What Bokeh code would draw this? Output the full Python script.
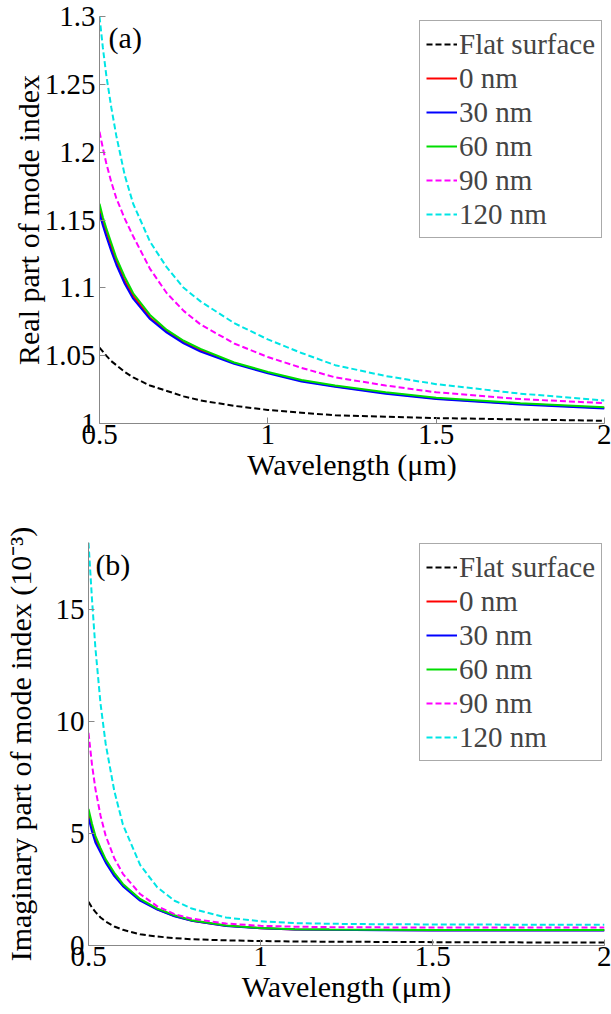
from bokeh.plotting import figure
from bokeh.models import Range1d, FixedTicker, CustomJSTickFormatter, Legend, LegendItem, Label
from bokeh.layouts import column
from bokeh.embed import file_html
from bokeh.resources import INLINE

# ---------------- data ----------------
wavelength = [0.5, 0.51, 0.52, 0.535, 0.55, 0.575, 0.6, 0.65, 0.7, 0.75, 0.8,
              0.9, 1.0, 1.1, 1.2, 1.35, 1.5, 1.75, 2.0]

series_labels = ["Flat surface", "0 nm", "30 nm", "60 nm", "90 nm", "120 nm"]

# Panel (a): real part of mode index
re_flat = [1.056, 1.053, 1.050, 1.046, 1.043, 1.038, 1.034, 1.028, 1.024, 1.020, 1.017,
           1.013, 1.010, 1.008, 1.006, 1.005, 1.004, 1.003, 1.002]
re_0 = [1.158, 1.149, 1.141, 1.130, 1.120, 1.105, 1.094, 1.078, 1.068, 1.060, 1.054,
        1.0445, 1.0375, 1.0315, 1.0275, 1.0225, 1.0185, 1.0145, 1.0115]
re_30 = [1.155, 1.146, 1.138, 1.127, 1.117, 1.103, 1.092, 1.077, 1.067, 1.059, 1.053,
         1.044, 1.037, 1.031, 1.027, 1.022, 1.018, 1.014, 1.011]
re_60 = [1.162, 1.152, 1.144, 1.133, 1.122, 1.108, 1.096, 1.080, 1.069, 1.061, 1.055,
         1.045, 1.038, 1.032, 1.028, 1.023, 1.019, 1.015, 1.012]
re_90 = [1.215, 1.203, 1.192, 1.178, 1.166, 1.151, 1.138, 1.114, 1.096, 1.083, 1.073,
         1.059, 1.049, 1.041, 1.034, 1.028, 1.023, 1.018, 1.015]
re_120 = [1.300, 1.277, 1.257, 1.233, 1.212, 1.183, 1.162, 1.134, 1.115, 1.100, 1.090,
          1.074, 1.062, 1.052, 1.043, 1.035, 1.029, 1.022, 1.017]

# Panel (b): imaginary part of mode index (x 1e-3)
im_flat = [1.95, 1.7, 1.5, 1.25, 1.07, 0.85, 0.7, 0.5, 0.4, 0.33, 0.28,
           0.23, 0.2, 0.18, 0.17, 0.16, 0.15, 0.14, 0.13]
im_0 = [5.9, 5.28, 4.75, 4.25, 3.77, 3.17, 2.7, 2.04, 1.62, 1.32, 1.11,
        0.88, 0.775, 0.72, 0.70, 0.69, 0.68, 0.68, 0.68]
im_30 = [5.7, 5.1, 4.6, 4.15, 3.7, 3.1, 2.65, 2.0, 1.6, 1.3, 1.1,
         0.87, 0.77, 0.72, 0.70, 0.68, 0.67, 0.67, 0.67]
im_60 = [6.1, 5.45, 4.9, 4.35, 3.85, 3.25, 2.75, 2.08, 1.65, 1.35, 1.13,
         0.89, 0.78, 0.73, 0.71, 0.70, 0.69, 0.69, 0.69]
im_90 = [9.5, 8.1, 7.0, 5.8, 4.9, 3.9, 3.2, 2.3, 1.75, 1.4, 1.2,
         0.98, 0.88, 0.84, 0.82, 0.81, 0.80, 0.80, 0.80]
im_120 = [18.0, 15.5, 13.3, 10.8, 9.0, 6.9, 5.4, 3.6, 2.6, 2.0, 1.65,
          1.25, 1.08, 1.0, 0.97, 0.95, 0.94, 0.93, 0.93]

x_ticks = [0.5, 1.0, 1.5, 2.0]
ya_ticks = [1.0, 1.05, 1.1, 1.15, 1.2, 1.25, 1.3]
yb_ticks = [0, 5, 10, 15]

# ---------------- styling ----------------
FONT = "Liberation Serif"
colors = ["#000000", "#ff0000", "#0000ff", "#00dd00", "#ff00ff", "#00e5e5"]
dashes = ["6 3", "solid", "solid", "solid", "6 3", "6 3"]
widths = [2, 2, 2, 2, 2, 2]

fmt = CustomJSTickFormatter(code="return String(Math.round(tick*1000)/1000)")


def make_panel(ys, y_range, y_ticks, ylabel, ylabel_standoff, tag, tag_xy, height,
               border_left, border_top, border_bottom, legend_loc):
    p = figure(width=611, height=height, output_backend="svg", toolbar_location=None,
               x_range=Range1d(0.5, 2.0), y_range=Range1d(*y_range),
               min_border_left=border_left, min_border_right=7,
               min_border_top=border_top, min_border_bottom=border_bottom)
    p.frame_align = False
    p.outline_line_color = None
    p.grid.visible = False
    p.background_fill_color = "white"
    p.border_fill_color = "white"

    for ax in (p.xaxis[0], p.yaxis[0]):
        ax.axis_line_color = "#888888"
        ax.major_tick_line_color = "#888888"
        ax.minor_tick_line_color = None
        ax.major_tick_in = 6
        ax.major_tick_out = 0
        ax.major_label_text_font = FONT
        ax.major_label_text_font_size = "29px"
        ax.major_label_text_color = "black"
        ax.axis_label_text_font = FONT
        ax.axis_label_text_font_size = "30px"
        ax.axis_label_text_font_style = "normal"
        ax.axis_label_text_color = "black"
        ax.formatter = fmt

    p.xaxis.ticker = FixedTicker(ticks=x_ticks)
    p.yaxis.ticker = FixedTicker(ticks=y_ticks)
    p.xaxis.axis_label = "Wavelength (\u03bcm)"
    p.yaxis.axis_label = ylabel
    p.xaxis.major_label_standoff = 1
    p.xaxis.axis_label_standoff = 1
    p.yaxis.major_label_standoff = 4
    p.yaxis.axis_label_standoff = ylabel_standoff

    items = []
    for y, c, d, w, lab in zip(ys, colors, dashes, widths, series_labels):
        r = p.line(wavelength, y, line_color=c, line_dash=d, line_width=w)
        items.append(LegendItem(label=lab, renderers=[r]))

    leg = Legend(items=items, location=legend_loc)
    leg.label_text_font = FONT
    leg.label_text_font_size = "29px"
    leg.label_height = 34
    leg.glyph_height = 34
    leg.glyph_width = 31
    leg.label_standoff = 2
    leg.spacing = 0
    leg.padding = 6
    leg.margin = 0
    leg.border_line_color = "#555555"
    leg.border_line_width = 1
    leg.background_fill_alpha = 1.0
    p.add_layout(leg)

    p.add_layout(Label(x=tag_xy[0], y=tag_xy[1], text=tag, text_baseline="top",
                       text_font=FONT, text_font_size="30px", text_color="black"))
    return p


pa = make_panel([re_flat, re_0, re_30, re_60, re_90, re_120], (1.0, 1.3), ya_ticks,
                "Real part of mode index", -3, "(a)", (0.527, 1.297), 505,
                99, 16, 82, (320, 185))
pb = make_panel([im_flat, im_0, im_30, im_60, im_90, im_120], (0.0, 18.0), yb_ticks,
                "Imaginary part of mode index (10\u207b\u00b3)", 16, "(b)", (0.52, 17.75), 509,
                88, 37, 69, (331, 184))

layout = column(pa, pb, spacing=0)
open("out.html", "w").write(file_html(layout, INLINE))
